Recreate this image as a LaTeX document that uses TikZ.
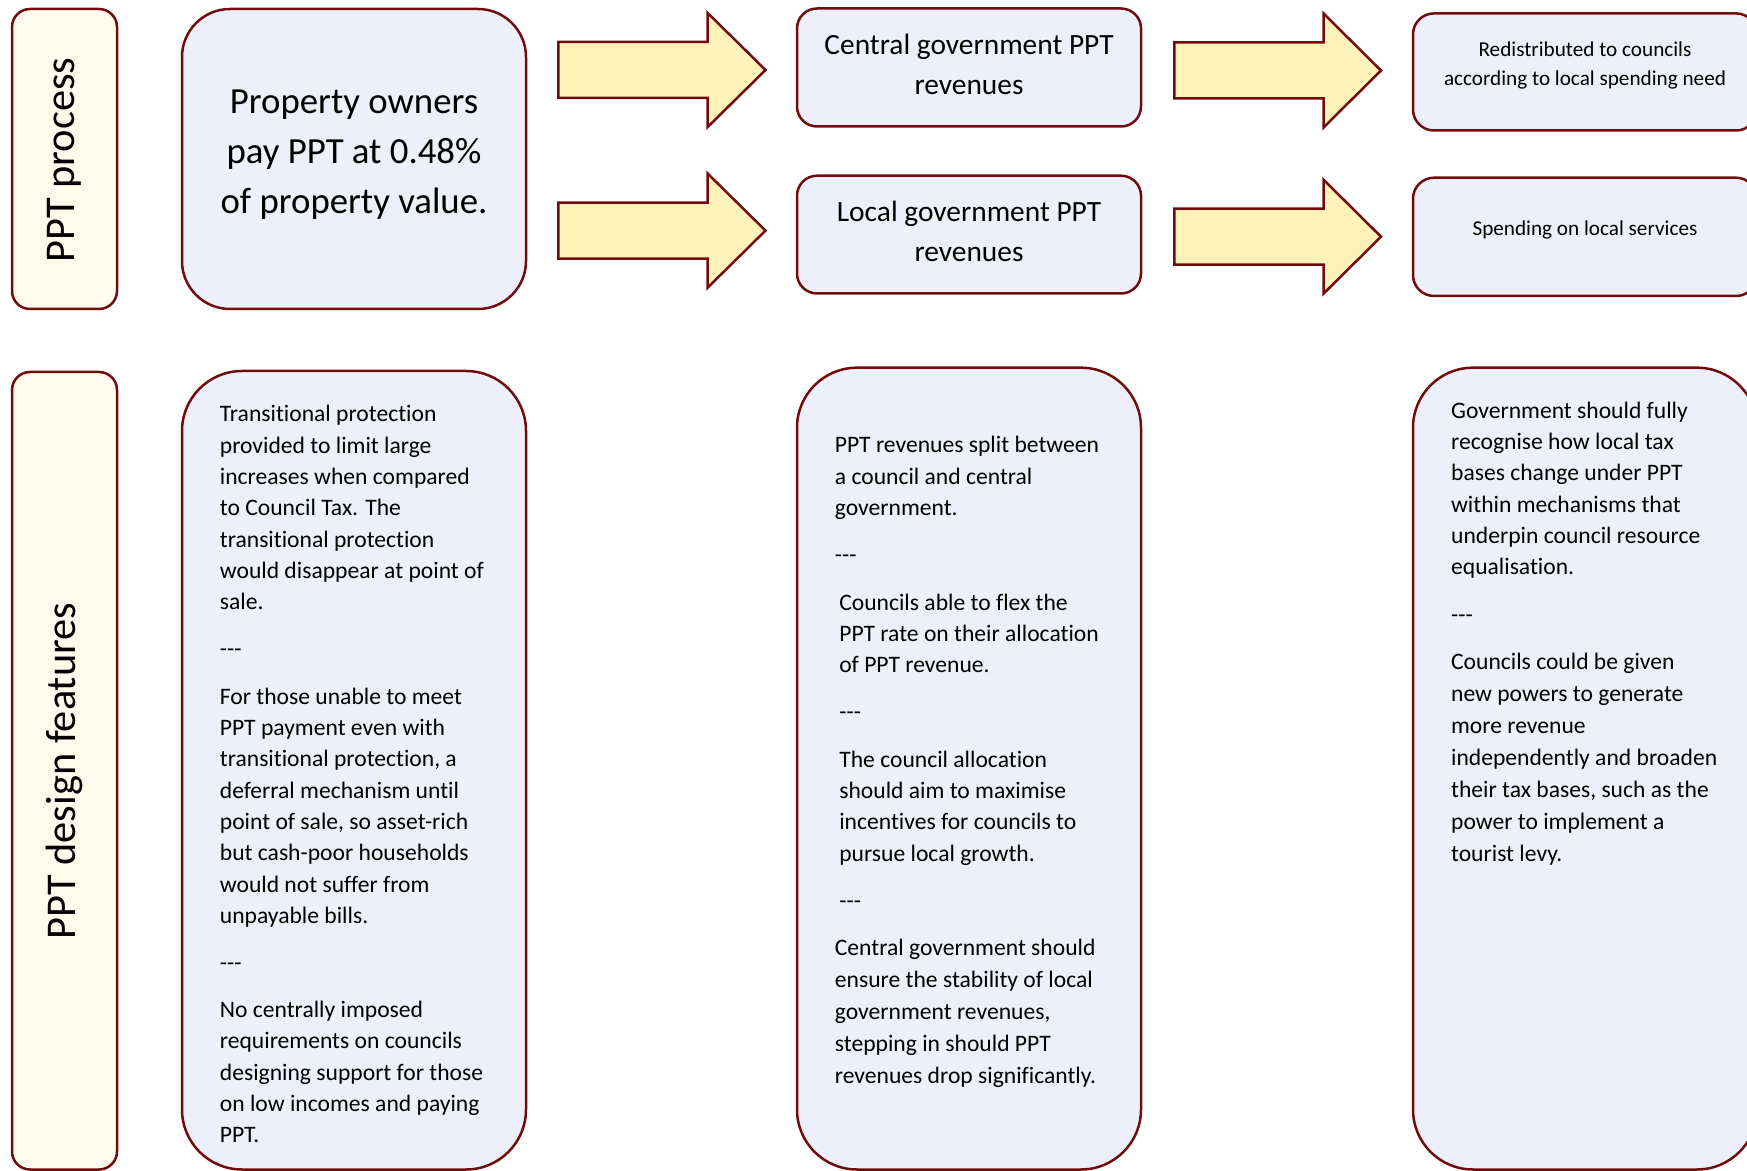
\documentclass[tikz,border=0pt]{standalone}
\usepackage{fontspec}
\setmainfont{Carlito}[Ligatures={TeX,NoCommon}]
\definecolor{bordred}{RGB}{112,12,12}
\definecolor{boxblue}{RGB}{237,240,250}
\definecolor{creamfill}{RGB}{255,251,236}
\definecolor{arrowfill}{RGB}{255,242,184}
\newcommand\barr[4]{%
  \draw[barrow] (#1,{#4-28}) -- (#2,{#4-28}) -- (#2,{#4-57}) -- (#3,#4) -- (#2,{#4+57}) -- (#2,{#4+28}) -- (#1,{#4+28}) -- cycle;}
\begin{document}
\begin{tikzpicture}[x=0.5pt,y=-0.5pt,
  bluebox/.style={draw=bordred, fill=boxblue, line width=1.25pt},
  lblbox/.style={draw=bordred, fill=creamfill, line width=1.25pt, rounded corners=9pt},
  barrow/.style={draw=bordred, fill=arrowfill, line width=1.25pt, line join=miter},
  bodytext/.style={align=left, anchor=north west, inner sep=0pt, font=\fontsize{11.8}{15.65}\selectfont},
  lbltext/.style={rotate=90, inner sep=0pt, font=\fontsize{21.2}{25}\selectfont}]
\useasboundingbox (0,0) rectangle (1747,1171);
\clip (0,0) rectangle (1747,1171);

% side labels
\draw[lblbox] (12,9) rectangle (117,309);
\draw[lblbox] (12,372) rectangle (117,1169.5);
\node[lbltext] (lproc) at (64.5,160) {PPT process};
\node[lbltext] (lfeat) at (64.5,771) {PPT design features};

% top row boxes
\draw[bluebox, rounded corners=24pt] (182,9) rectangle (526,309);
\draw[bluebox, rounded corners=10pt] (797,8.5) rectangle (1141,126.5);
\draw[bluebox, rounded corners=10pt] (797,175.7) rectangle (1141,293.5);
\draw[bluebox, rounded corners=10.5pt] (1413,13.4) rectangle (1757,130.5);
\draw[bluebox, rounded corners=10.5pt] (1413,177.7) rectangle (1757,296);

\node[align=center, anchor=north, inner sep=0pt, font=\fontsize{18.4}{25}\selectfont] (owners) at (354,78)
  {\strut Property owners\\pay PPT at 0.48\%\\of property value.};
\node[align=center, anchor=north, inner sep=0pt, font=\fontsize{14.7}{20}\selectfont] (central) at (969,26)
  {\strut Central government PPT\\revenues};
\node[align=center, anchor=north, inner sep=0pt, font=\fontsize{14.7}{20}\selectfont] (local) at (969,193)
  {\strut Local government PPT\\revenues};
\node[align=center, anchor=north, inner sep=0pt, font=\fontsize{10.6}{14.5}\selectfont] (redist) at (1585,35.8)
  {\strut Redistributed to councils\\according to local spending need};
\node[anchor=base, inner sep=0pt, font=\fontsize{10.6}{14.5}\selectfont] (spend) at (1585,235.4)
  {Spending on local services};

% block arrows
\barr{558.3}{707.7}{765.5}{70}
\barr{558.3}{707.7}{765.5}{230.6}
\barr{1174.4}{1323.5}{1381}{70.5}
\barr{1174.4}{1323.5}{1381}{236.7}

% bottom row boxes
\draw[bluebox, rounded corners=30pt] (182,371) rectangle (526,1169.5);
\draw[bluebox, rounded corners=30pt] (797,367.7) rectangle (1141,1169.5);
\draw[bluebox, rounded corners=30pt] (1413,367.7) rectangle (1757,1169.5);

\node[bodytext] (featA) at (219.5,399.5) {\strut Transitional protection\\
provided to limit large\\
increases when compared\\
to Council Tax. The\\
transitional protection\\
would disappear at point of\\
sale.\\[8pt]
-{}-{}-\\[8pt]
For those unable to meet\\
PPT payment even with\\
transitional protection, a\\
deferral mechanism until\\
point of sale, so asset-rich\\
but cash-poor households\\
would not suffer from\\
unpayable bills.\\[8pt]
-{}-{}-\\[7.8pt]
No centrally imposed\\
requirements on councils\\
designing support for those\\
on low incomes and paying\\
PPT.};

\node[bodytext] (featB) at (834.5,430.5) {\strut PPT revenues split between\\
a council and central\\
government.\\[8pt]
-{}-{}-\\[8pt]
\hspace*{2.2pt}Councils able to flex the\\
\hspace*{2.2pt}PPT rate on their allocation\\
\hspace*{2.2pt}of PPT revenue.\\[8pt]
\hspace*{2.2pt}-{}-{}-\\[8pt]
\hspace*{2.2pt}The council allocation\\
\hspace*{2.2pt}should aim to maximise\\
\hspace*{2.2pt}incentives for councils to\\
\hspace*{2.2pt}pursue local growth.\\[8pt]
\hspace*{2.2pt}-{}-{}-\\[8pt]
Central government should\\[0.3pt]
ensure the stability of local\\[0.3pt]
government revenues,\\[0.3pt]
stepping in should PPT\\[0.3pt]
revenues drop significantly.};

\node[bodytext] (featC) at (1450.7,396) {\strut Government should fully\\
recognise how local tax\\
bases change under PPT\\
within mechanisms that\\
underpin council resource\\
equalisation.\\[8pt]
-{}-{}-\\[8.2pt]
Councils could be given\\[0.3pt]
new powers to generate\\[0.3pt]
more revenue\\[0.3pt]
independently and broaden\\[0.3pt]
their tax bases, such as the\\[0.3pt]
power to implement a\\[0.3pt]
tourist levy.};
\end{tikzpicture}
\end{document}
